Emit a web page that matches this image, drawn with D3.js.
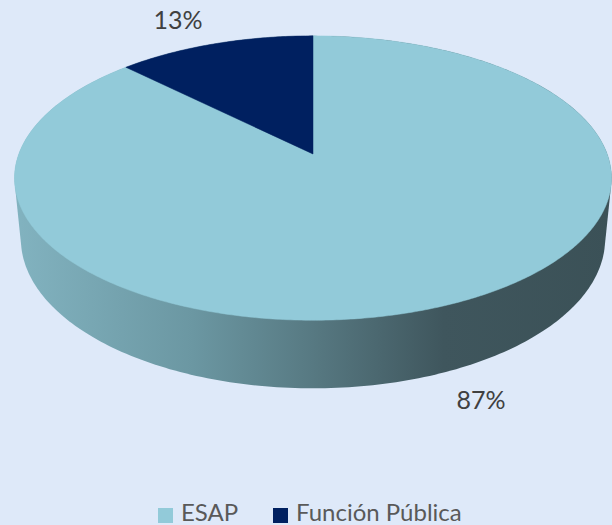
<!DOCTYPE html>
<html>
<head>
<meta charset="utf-8">
<script src="https://cdnjs.cloudflare.com/ajax/libs/d3/7.8.5/d3.min.js"></script>
<style>
  html, body { margin: 0; padding: 0; background: #dee9f9; }
  svg { display: block; }
  text { font-family: Lato, "Open Sans", sans-serif; }
</style>
</head>
<body>
<svg id="chart" width="612" height="525"></svg>
<script>
// Chart data
var labels = ["ESAP", "Función Pública"];
var values = [87.4, 12.6];
var colors = ["#92cad9", "#002060"];

var width = 612, height = 525;
var svg = d3.select("#chart");

svg.append("rect").attr("width", width).attr("height", height).attr("fill", "#dee9f9");

// Perspective camera for the 3D pie (radius 1 in world units).
var CX = 313, CY = 154;
var ELEV = 28 * Math.PI / 180;
var SIN = Math.sin(ELEV), COS = Math.cos(ELEV);
var DIST = 5.22;
var FOCAL = 1535.7;
var THICK = 0.237;

// Project a point on the pie given angle (clockwise from 12 o'clock), radius and height.
function proj(theta, r, h) {
  var X = r * Math.sin(theta);
  var Z = r * Math.cos(theta);
  var v = Z * SIN + h * COS;
  var w = DIST + Z * COS - h * SIN;
  return [CX + FOCAL * X / w, CY - FOCAL * v / w];
}

var pie = d3.pie().sort(null).value(function(d) { return d; });
var arcs = pie(values);

// Side gradient, light on the left, dark on the right.
var defs = svg.append("defs");
var grad = defs.append("linearGradient")
  .attr("id", "sideGrad")
  .attr("gradientUnits", "userSpaceOnUse")
  .attr("x1", 14).attr("x2", 611).attr("y1", 0).attr("y2", 0);
[[0, "#82b3c0"], [0.3, "#6b97a2"], [0.5, "#577982"], [0.72, "#3f565d"], [1, "#3b5157"]]
  .forEach(function(s) {
    grad.append("stop").attr("offset", s[0]).attr("stop-color", s[1]);
  });

// Side of the cylinder: hull of the top and bottom rims.
var rimPts = [];
for (var a = 0; a < 360; a += 1) {
  var t = a * Math.PI / 180;
  rimPts.push(proj(t, 1, 0));
  rimPts.push(proj(t, 1, -THICK));
}
var hull = d3.polygonHull(rimPts);
svg.append("path")
  .attr("d", "M" + hull.join("L") + "Z")
  .attr("fill", "url(#sideGrad)");

// Top face slices.
function slicePath(d) {
  var pts = [proj(0, 0, 0)];
  var n = Math.max(2, Math.ceil((d.endAngle - d.startAngle) / 0.01));
  for (var i = 0; i <= n; i++) {
    var t = d.startAngle + (d.endAngle - d.startAngle) * i / n;
    pts.push(proj(t, 1, 0));
  }
  return "M" + pts.join("L") + "Z";
}

svg.append("g").selectAll("path")
  .data(arcs)
  .enter().append("path")
  .attr("d", slicePath)
  .attr("fill", function(d, i) { return colors[i]; })
  .attr("stroke", function(d, i) { return colors[i]; })
  .attr("stroke-width", 0.5);

// Data labels
var total = d3.sum(values);
var labelPos = [[481, 409], [178, 29]];
svg.append("g").selectAll("text")
  .data(arcs)
  .enter().append("text")
  .attr("x", function(d, i) { return labelPos[i][0]; })
  .attr("y", function(d, i) { return labelPos[i][1]; })
  .attr("text-anchor", "middle")
  .attr("font-size", 25)
  .attr("fill", "#404040")
  .text(function(d) { return Math.round(d.value / total * 100) + "%"; });

// Legend
var legendX = [158, 273];
var legend = svg.append("g");
labels.forEach(function(name, i) {
  legend.append("rect")
    .attr("x", legendX[i]).attr("y", 508)
    .attr("width", 15).attr("height", 15)
    .attr("fill", colors[i]);
  legend.append("text")
    .attr("x", legendX[i] + 23).attr("y", 521)
    .attr("font-size", 24)
    .attr("fill", "#595959")
    .text(name);
});
</script>
</body>
</html>
